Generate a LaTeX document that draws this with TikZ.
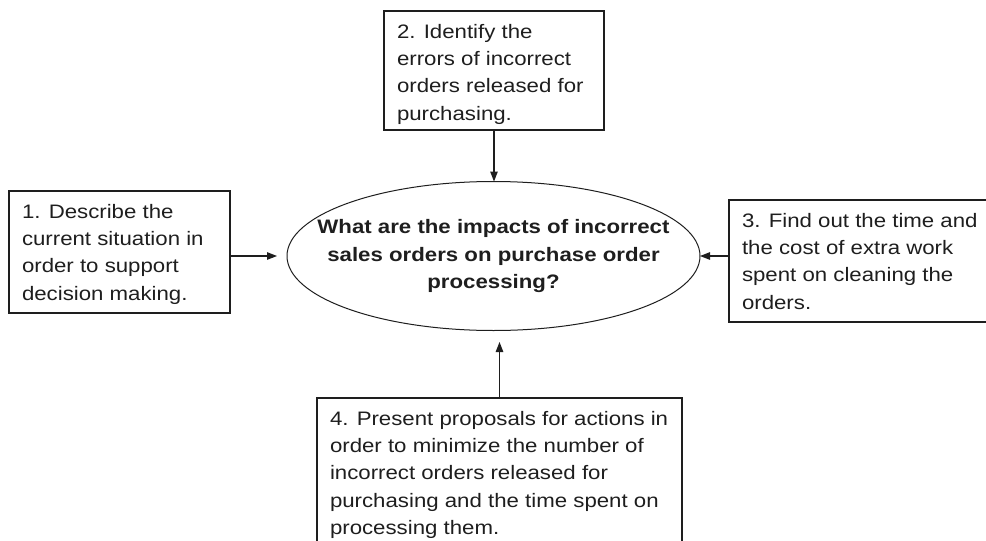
\documentclass[tikz,border=0pt]{standalone}
\usepackage{fontspec}
\setmainfont{Liberation Sans}
\newfontfamily\widesans[FakeStretch=1.14]{Liberation Sans}
\usetikzlibrary{shapes.geometric,arrows.meta,calc}
\definecolor{ink}{HTML}{1E1E1E}
% top-aligned text block of fixed height and width
\newcommand\boxtext[3]{\parbox[c][#1][t]{#2}{\raggedright\strut#3}}

\begin{document}
\begin{tikzpicture}[x=1pt,y=-1pt,
  txtbox/.style={draw=ink, line width=1.2pt, anchor=north west,
    inner xsep=13pt, inner ysep=8pt, outer sep=0pt, text=ink,
    font=\widesans\fontsize{19.5}{27.3}\selectfont},
  question/.style={ellipse, draw=ink, line width=1pt,
    minimum width=413pt, minimum height=149pt, inner sep=0pt, outer sep=0pt,
    text=ink, font=\widesans\bfseries\fontsize{19.5}{27.6}\selectfont},
  link/.style={draw=ink, line width=1.2pt,
    -{Triangle[length=10pt,width=7.5pt]}}]

\useasboundingbox (0,0) rectangle (986,541);
\clip (0,0) rectangle (986,541);

% central research question
\node[question] (ell) at (493.5,256)
  {\hbox to 0pt{\hss\raisebox{-2pt}{\parbox{380pt}{\centering
    What are the impacts of incorrect\\
    sales orders on purchase order\\
    processing?}}\hss}};

% sub-questions
\node[txtbox] (b1) at (9,191) {\boxtext{106pt}{195pt}{1. Describe the\\
  current situation in\\ order to support\\ decision making.}};

\node[txtbox] (b2) at (384,11) {\boxtext{103pt}{194pt}{2. Identify the\\
  errors of incorrect\\ orders released for\\ purchasing.}};

\node[txtbox] (b3) at (729,200) {\boxtext{106pt}{274pt}{3. Find out the time and\\
  the cost of extra work\\ spent on cleaning the\\ orders.}};

\node[txtbox] (b4) at (317,398) {\boxtext{146pt}{339pt}{4. Present proposals for actions in\\
  order to minimize the number of\\ incorrect orders released for\\
  purchasing and the time spent on\\ processing them.}};

% arrows towards the question
\coordinate (g1) at ($(ell.west)+(-10,0)$);
\coordinate (g4) at ($(ell.south -| b4.north)+(0,11.5)$);

\draw[link] (b1.east |- ell.west) -- (g1);
\draw[link] (b2.south) -- (b2.south |- ell.north);
\draw[link] (b3.west |- ell.east) -- (ell.east);
\draw[link] (b4.north) -- (g4);
\end{tikzpicture}
\end{document}
